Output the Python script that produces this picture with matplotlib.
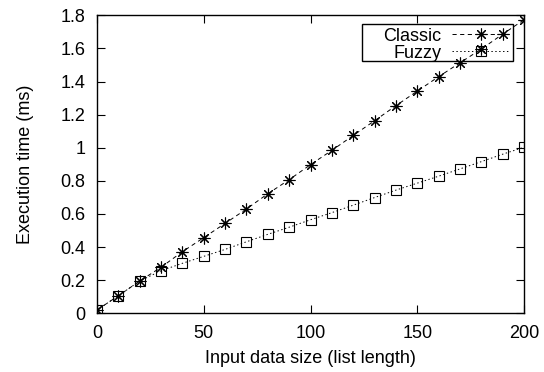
import matplotlib
matplotlib.use("Agg")
import matplotlib.pyplot as plt
from matplotlib.patches import Rectangle
from matplotlib.ticker import FuncFormatter

plt.rcParams['font.family'] = ['Liberation Sans', 'DejaVu Sans']
plt.rcParams['font.size'] = 13
plt.rcParams['lines.scale_dashes'] = False

sizes = [0, 10, 20, 30, 40, 50, 60, 70, 80, 90, 100, 110, 120, 130, 140, 150, 160, 170, 180, 190, 200]
classic = [0.02, 0.106, 0.195, 0.278, 0.372, 0.457, 0.543, 0.630, 0.722, 0.807, 0.898,
           0.984, 1.074, 1.163, 1.254, 1.342, 1.429, 1.513, 1.596, 1.686, 1.773]
fuzzy = [0.02, 0.106, 0.195, 0.257, 0.302, 0.344, 0.386, 0.432, 0.477, 0.520, 0.565,
         0.608, 0.653, 0.699, 0.744, 0.786, 0.828, 0.872, 0.916, 0.961, 1.003]
xticks = [0, 50, 100, 150, 200]
yticks = [0, 0.2, 0.4, 0.6, 0.8, 1.0, 1.2, 1.4, 1.6, 1.8]

fig = plt.figure(figsize=(5.44, 3.72), dpi=100)
ax = fig.add_axes([97/544, (372-313.3)/372, (524-97)/544, (313.3-15.3)/372])

ax.plot(sizes, classic, color='black', lw=0.7, dashes=(3, 2.5),
        marker=(8, 2, 0), markersize=8.5, markeredgewidth=0.8, label='Classic')
ax.plot(sizes, fuzzy, color='black', lw=0.7, dashes=(1, 1.8),
        marker='s', markersize=7, markerfacecolor='none', markeredgewidth=0.8, label='Fuzzy')

ax.set_xlim(0, 200)
ax.set_ylim(0, 1.8)
ax.set_xticks(xticks)
ax.set_yticks(yticks)
ax.yaxis.set_major_formatter(FuncFormatter(lambda v, p: '%g' % round(v, 2)))
ax.xaxis.set_major_formatter(FuncFormatter(lambda v, p: '%g' % v))
ax.tick_params(direction='in', length=5.5, width=0.8, top=True, right=True, pad=8.5, labelsize=13)
for s in ax.spines.values():
    s.set_linewidth(1.0)

ax.set_xlabel('Input data size (list length)', fontsize=13, labelpad=6)
ax.set_ylabel('Execution time (ms)', fontsize=13, labelpad=19)

leg = ax.legend(loc='upper right', bbox_to_anchor=(0.9735, 0.9708), markerfirst=False,
                numpoints=1, handlelength=3.15, handletextpad=0.6, labelspacing=0.0,
                borderpad=0.2, borderaxespad=0, frameon=False, fontsize=13)

# legend box outline (gnuplot-style, unfilled)
ax.add_patch(Rectangle((0.62, 0.8466), 0.9735 - 0.62, 0.9708 - 0.8466,
                       transform=ax.transAxes, fill=False, edgecolor='black',
                       linewidth=1.0, zorder=5))

fig.savefig('out.png', dpi=100)
